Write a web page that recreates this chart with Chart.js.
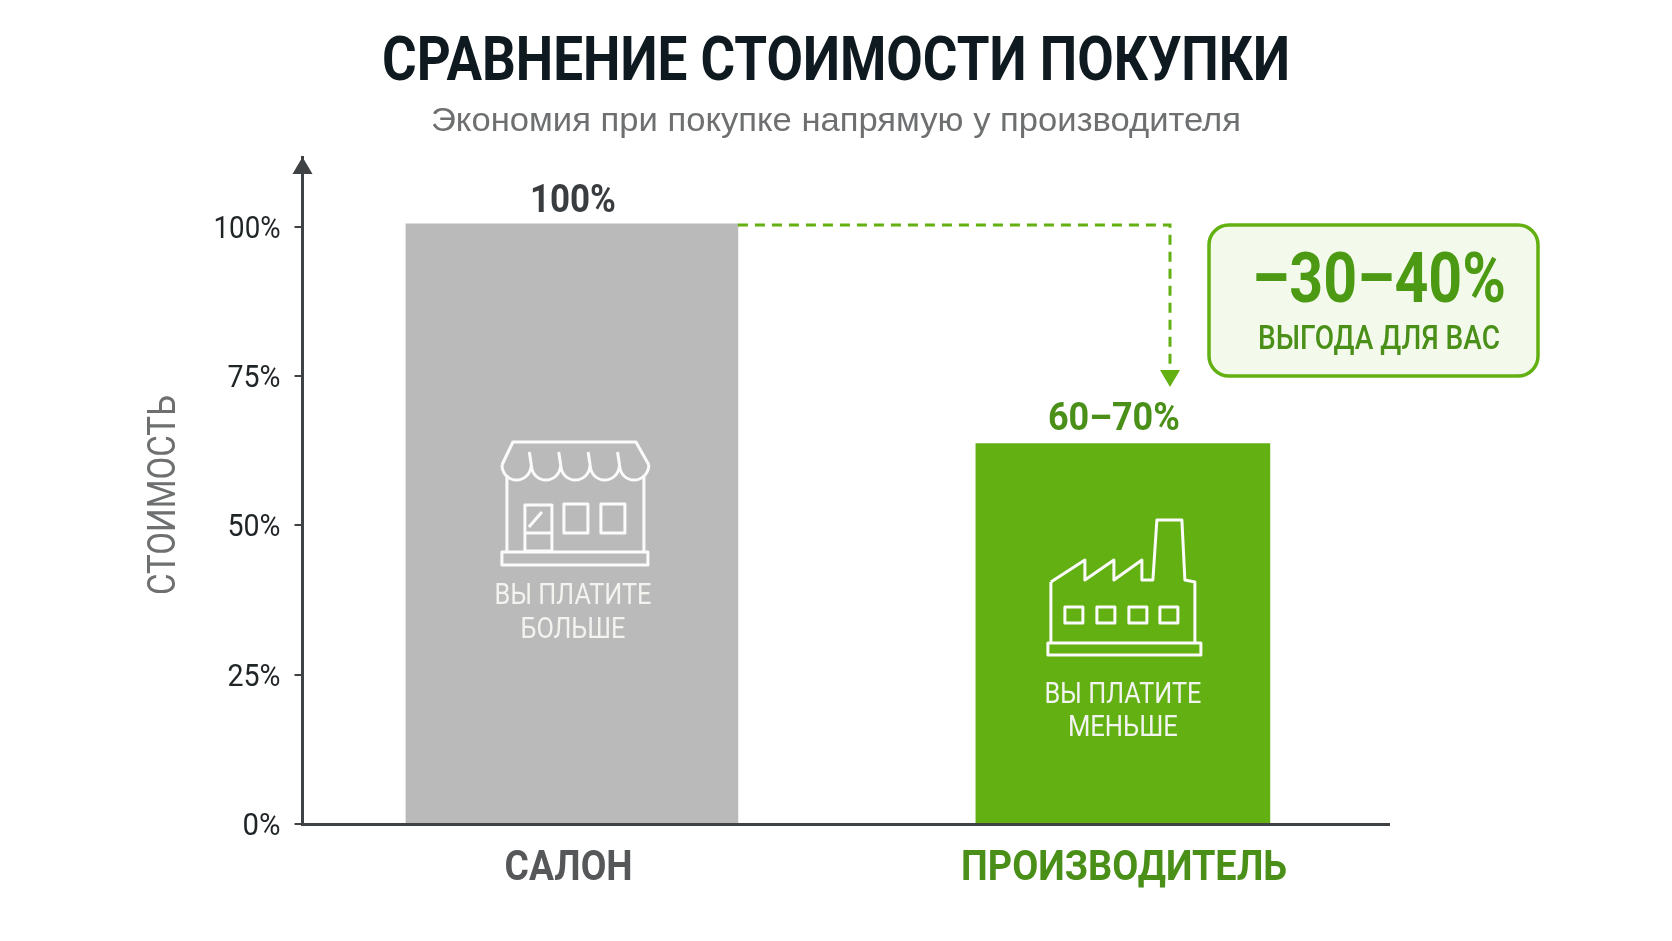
<!DOCTYPE html>
<html lang="ru">
<head>
<meta charset="utf-8">
<title>Сравнение стоимости покупки</title>
<script src="https://cdn.jsdelivr.net/npm/chart.js@4/dist/chart.umd.min.js"></script>
<style>
    html, body { margin: 0; padding: 0; background: #fff; }
    canvas { display: block; }
</style>
</head>
<body>
<canvas id="myChart" width="1672" height="941"></canvas>
<script>
const categories = ['САЛОН', 'ПРОИЗВОДИТЕЛЬ']
const categoryX = [1, 2]
const categoryLabelX = [0.994, 2.002]
const barValues = [100.5, 63.7]
const valueLabels = ['100%', '60–70%']
const yTicks = [0, 25, 50, 75, 100]
const barNotes = [['ВЫ ПЛАТИТЕ', 'БОЛЬШЕ'], ['ВЫ ПЛАТИТЕ', 'МЕНЬШЕ']]
const savingValue = '–30–40%'
const savingNote = 'ВЫГОДА ДЛЯ ВАС'
const chartTitle = 'СРАВНЕНИЕ СТОИМОСТИ ПОКУПКИ'
const chartSubtitle = 'Экономия при покупке напрямую у производителя'
const yTitle = 'СТОИМОСТЬ'

const CONDENSED = 'Roboto, sans-serif'
const GREEN = '#63b012'
const DARK_GREEN = '#4a8f17'
const AXIS = '#3f4244'

// no condensed face is installed, so text is squeezed to these widths when it is painted
const paintedWidths = new Map([
    [chartTitle, 908], [chartSubtitle, 810], [yTitle, 200],
    ['100%', 67], ['75%', 53], ['50%', 53], ['25%', 53], ['0%', 38],
    [categories[0], 128], [categories[1], 326],
    [valueLabels[1], 132], [savingValue, 254], [savingNote, 242],
    ['ВЫ ПЛАТИТЕ', 157], ['БОЛЬШЕ', 105], ['МЕНЬШЕ', 110]
])

function condenseText(ctx){
    const fill = ctx.fillText.bind(ctx)
    ctx.fillText = (text, x, y) => {
        // the bold 100% over the bar is wider than the tick with the same text
        const target = text === '100%' && ctx.font.startsWith('bold') ? 86 : paintedWidths.get(text)
        const natural = ctx.measureText(text).width
        ctx.save()
        ctx.translate(x, y)
        ctx.scale(target ? target / natural : 1, 1)
        fill(text, 0, 0)
        ctx.restore()
    }
}

function strokePath(ctx, x0, y0, pts, close){
    ctx.beginPath()
    pts.forEach((p, i) => i ? ctx.lineTo(x0 + p[0], y0 + p[1]) : ctx.moveTo(x0 + p[0], y0 + p[1]))
    if(close) ctx.closePath()
    ctx.stroke()
}

// shop icon, offsets from the bar centre and the zero line
function drawShop(ctx, x0, y0){
    const rect = (x, y, w, h) => ctx.strokeRect(x0 + x, y0 + y, w, h)
    strokePath(ctx, x0, y0, [[-70, -359], [-59, -382], [64, -382], [77, -359]])
    ctx.beginPath()
    for(let i = 0; i < 5; i++){
        const left = -70 + i * 29.4
        ctx.moveTo(x0 + left, y0 - 359)
        ctx.bezierCurveTo(x0 + left + 1, y0 - 339, x0 + left + 28, y0 - 339, x0 + left + 29.4, y0 - 359)
    }
    ctx.stroke()
    for(let i = 1; i < 5; i++){
        const x = -70 + i * 29.4
        strokePath(ctx, x0, y0, [[x - 2, -372], [x, -359]])
    }
    strokePath(ctx, x0, y0, [[-65, -349], [-65, -273]])
    strokePath(ctx, x0, y0, [[72, -349], [72, -273]])
    rect(-70, -272, 146, 13)
    rect(-47, -319, 27, 46)
    strokePath(ctx, x0, y0, [[-47, -291], [-20, -291]])
    strokePath(ctx, x0, y0, [[-43, -297], [-30, -312]])
    rect(-8, -320, 24, 29)
    rect(29, -320, 24, 29)
}

// factory icon, same offsets
function drawFactory(ctx, x0, y0){
    const rect = (x, y, w, h) => ctx.strokeRect(x0 + x, y0 + y, w, h)
    strokePath(ctx, x0, y0, [
        [-72, -242], [-38, -264], [-38, -244], [-9, -264], [-9, -244], [19, -264], [19, -244],
        [30, -244], [34, -304], [59, -304], [62, -244], [72, -242], [72, -182]
    ])
    strokePath(ctx, x0, y0, [[-72, -242], [-72, -182]])
    rect(-75, -181, 153, 12)
    for(let x of [-58, -26, 6, 37]) rect(x, -217, 18, 16)
}

const annotations = {
    id: 'annotations',
    afterDraw(chart){
        const {ctx, scales: {x, y}, chartArea} = chart
        const bars = chart.getSortedVisibleDatasetMetas().map(m => m.data[0])
        const y0 = y.getPixelForValue(0)
        ctx.save()

        // axis arrow
        ctx.fillStyle = AXIS
        ctx.beginPath()
        ctx.moveTo(chartArea.left, chartArea.top)
        ctx.lineTo(chartArea.left - 10, chartArea.top + 17)
        ctx.lineTo(chartArea.left + 10, chartArea.top + 17)
        ctx.closePath()
        ctx.fill()

        // axis title, a little below the middle of the axis
        ctx.save()
        ctx.translate(165, 495)
        ctx.rotate(-Math.PI / 2)
        ctx.textAlign = 'center'
        ctx.textBaseline = 'middle'
        ctx.font = '38px ' + CONDENSED
        ctx.fillStyle = '#6d6f70'
        ctx.fillText(yTitle, 0, 0)
        ctx.restore()

        // values above the bars
        ctx.textAlign = 'center'
        ctx.textBaseline = 'middle'
        ctx.font = 'bold 39px ' + CONDENSED
        ctx.fillStyle = '#3a3d3f'
        ctx.fillText(valueLabels[0], bars[0].x + 1, bars[0].y - 22)
        ctx.fillStyle = DARK_GREEN
        ctx.fillText(valueLabels[1], bars[1].x - 9, bars[1].y - 23)

        // dashed drop from the first bar to the second
        const dropX = 1170, tipY = 387
        ctx.strokeStyle = GREEN
        ctx.lineWidth = 3
        ctx.setLineDash([10, 7])
        strokePath(ctx, 0, 0, [[bars[0].x + bars[0].width / 2, bars[0].y + 1], [dropX, bars[0].y + 1], [dropX, tipY - 14]])
        ctx.setLineDash([])
        ctx.fillStyle = GREEN
        ctx.beginPath()
        ctx.moveTo(dropX, tipY)
        ctx.lineTo(dropX - 10, tipY - 17)
        ctx.lineTo(dropX + 10, tipY - 17)
        ctx.closePath()
        ctx.fill()

        // saving box
        ctx.beginPath()
        ctx.roundRect(1209, 225, 329, 151, 20)
        ctx.fillStyle = '#f3faec'
        ctx.fill()
        ctx.lineWidth = 3.5
        ctx.strokeStyle = GREEN
        ctx.stroke()
        ctx.fillStyle = '#4c9a14'
        ctx.font = 'bold 70px ' + CONDENSED
        ctx.fillText(savingValue, 1379, 284)
        ctx.fillStyle = DARK_GREEN
        ctx.font = '500 33px ' + CONDENSED
        ctx.fillText(savingNote, 1379, 341)

        // icons and notes inside the bars
        ctx.strokeStyle = '#fbfbfb'
        ctx.lineWidth = 3
        ctx.lineJoin = 'round'
        drawShop(ctx, bars[0].x, y0)
        drawFactory(ctx, bars[1].x, y0)
        ctx.font = '29px ' + CONDENSED
        ctx.fillStyle = '#f2f4f0'
        barNotes[0].forEach((t, i) => ctx.fillText(t, bars[0].x + 1, y0 - 227 + i * 34))
        barNotes[1].forEach((t, i) => ctx.fillText(t, bars[1].x, y0 - 128 + i * 33))
        ctx.restore()
    }
}

const ctx = document.getElementById('myChart').getContext('2d')
condenseText(ctx)

new Chart(ctx, {
    type: 'bar',
    data: {
        datasets: [
            {
                label: categories[0],
                data: [{x: categoryX[0], y: barValues[0]}],
                backgroundColor: '#bababa',
                barThickness: 332,
                grouped: false
            },
            {
                label: categories[1],
                data: [{x: categoryX[1], y: barValues[1]}],
                backgroundColor: GREEN,
                barThickness: 294,
                grouped: false
            }
        ]
    },
    options: {
        responsive: false,
        animation: false,
        layout: { padding: { top: 33, left: 0, right: 0, bottom: 0 } },
        plugins: {
            legend: { display: false },
            tooltip: { enabled: false },
            title: {
                display: true,
                text: chartTitle,
                color: '#0f1a20',
                font: { family: CONDENSED, size: 62, weight: 'bold', lineHeight: 1 },
                padding: { top: 0, bottom: 10 }
            },
            subtitle: {
                display: true,
                text: chartSubtitle,
                color: '#6d6f70',
                font: { family: '"Liberation Sans", sans-serif', size: 34, weight: 'normal', lineHeight: 1 },
                padding: { top: 0, bottom: 18 }
            }
        },
        scales: {
            x: {
                type: 'linear',
                offset: false,
                min: 0.511,
                max: 2.483,
                afterBuildTicks: s => { s.ticks = categoryLabelX.map(v => ({value: v})) },
                afterFit: s => { s.height = 117 },
                grid: { display: false, drawTicks: false, offset: false },
                border: { display: true, color: AXIS, width: 3, z: 1 },
                ticks: {
                    autoSkip: false,
                    maxRotation: 0,
                    padding: 19,
                    color: c => c.index === 1 ? DARK_GREEN : '#555758',
                    font: { family: CONDENSED, size: 43, weight: 'bold', lineHeight: 1.2 },
                    callback: (v, i) => categories[i]
                }
            },
            y: {
                min: 0,
                max: 111.7,
                afterBuildTicks: s => { s.ticks = yTicks.map(v => ({value: v})) },
                afterFit: s => { s.width = 302.5 },
                grid: { drawOnChartArea: false, drawTicks: true, tickLength: 8, color: AXIS, lineWidth: 2 },
                border: { display: true, color: AXIS, width: 3 },
                ticks: {
                    padding: 14,
                    labelOffset: 3,
                    color: '#1f2426',
                    font: { family: CONDENSED, size: 32 },
                    callback: v => v + '%'
                }
            },
            // keeps the room on the right for the saving box, title stays centred on the page
            side: {
                position: 'right',
                display: true,
                afterFit: s => { s.width = 283 },
                grid: { display: false },
                border: { display: false },
                ticks: { display: false }
            }
        }
    },
    plugins: [annotations]
})
</script>
</body>
</html>
